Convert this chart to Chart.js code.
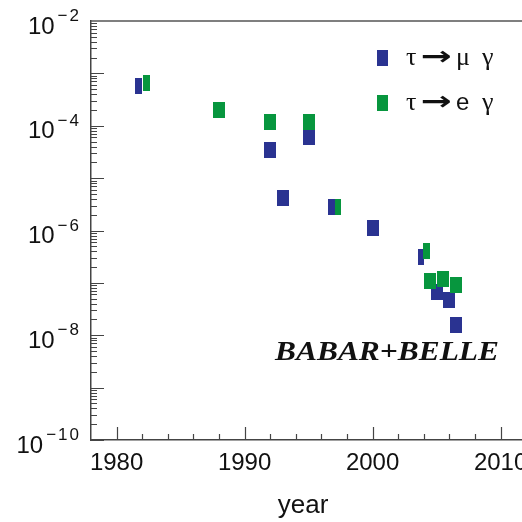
<!DOCTYPE html>
<html>
<head>
<meta charset="utf-8">
<script src="https://cdn.jsdelivr.net/npm/chart.js@4.4.0/dist/chart.umd.min.js"></script>
<style>
  html, body { margin: 0; padding: 0; background: #fff; }
  canvas { display: block; }
</style>
</head>
<body>
<canvas id="grafico" width="522" height="522"></canvas>
<script>
// limites superiores por ano
const muYears = [1981.7, 1992.0, 1993.0, 1995.0, 1996.8, 2000.0, 2003.75, 2005.0, 2006.0, 2006.5];
const muLimits = [5.7e-4, 3.4e-5, 4.2e-6, 6.2e-5, 2.8e-6, 1.1e-6, 3.1e-7, 6.6e-8, 4.8e-8, 1.6e-8];
const eYears = [1982.3, 1988.0, 1992.0, 1995.0, 1997.3, 2004.2, 2004.45, 2005.47, 2006.48];
const eLimits = [6.5e-4, 2.0e-4, 1.17e-4, 1.2e-4, 2.8e-6, 4.1e-7, 1.09e-7, 1.19e-7, 9.2e-8];

const xTickYears = [1980, 1990, 2000, 2010];
const yTickExps = [-2, -4, -6, -8, -10];
const seriesFinal = ["μ", "e"]; // τ → μ γ , τ → e γ

// larguras dos marcadores (alguns aparecem pela metade)
const muWidths = [7, 12, 12, 12, 7, 12, 6, 12, 12, 12];
const eWidths = [7, 12, 12, 12, 6, 7, 12, 12, 12];

const AZUL = "#2a3391";
const VERDE = "#07963e";

function retangulo(w, h, cor) {
  const c = document.createElement("canvas");
  c.width = w;
  c.height = h;
  const g = c.getContext("2d");
  g.fillStyle = cor;
  g.fillRect(0, 0, w, h);
  return c;
}

// texto esticado para caber numa largura
function textoLargura(ctx, txt, x, y, largura) {
  const w = ctx.measureText(txt).width;
  ctx.save();
  ctx.translate(x, y);
  ctx.scale(largura / w, 1);
  ctx.fillText(txt, 0, 0);
  ctx.restore();
}

const eixosExtras = {
  id: "eixosExtras",
  afterDraw(chart) {
    const ctx = chart.ctx;
    const x = chart.scales.x;
    const y = chart.scales.y;
    const area = chart.chartArea;
    ctx.save();

    // linha de cima
    ctx.strokeStyle = "#555";
    ctx.lineWidth = 1.5;
    ctx.beginPath();
    ctx.moveTo(area.left, area.top);
    ctx.lineTo(chart.width, area.top);
    ctx.stroke();

    // marcas do eixo y (log)
    ctx.strokeStyle = "#444";
    ctx.lineWidth = 1.2;
    ctx.beginPath();
    for (let e = -10; e < -2; e++) {
      for (let m = 1; m <= 9; m++) {
        const py = Math.round(y.getPixelForValue(m * Math.pow(10, e))) + 0.5;
        const len = m === 1 ? 13 : 6;
        ctx.moveTo(area.left, py);
        ctx.lineTo(area.left + len, py);
      }
    }
    // marcas do eixo x
    for (let yr = 1980; yr <= 2010; yr += 2) {
      const px = Math.round(x.getPixelForValue(yr)) + 0.5;
      const len = yr % 10 === 0 ? 13 : 6;
      ctx.moveTo(px, area.bottom);
      ctx.lineTo(px, area.bottom - len);
    }
    ctx.stroke();

    // rótulos do eixo y: 10^n
    ctx.fillStyle = "#111";
    ctx.textBaseline = "alphabetic";
    ctx.textAlign = "right";
    yTickExps.forEach(function (ex) {
      const ty = y.getPixelForValue(Math.pow(10, ex));
      ctx.font = '17px "Liberation Sans", Arial, sans-serif';
      ctx.letterSpacing = "2px";
      const sup = "−" + Math.abs(ex);
      const supW = ctx.measureText(sup).width;
      ctx.fillText(sup, 81, ty);
      ctx.letterSpacing = "0px";
      ctx.font = '24px "Liberation Sans", Arial, sans-serif';
      ctx.fillText("10", 81 - supW - 3, ty + 12.5);
    });

    // rótulos do eixo x
    ctx.textAlign = "center";
    ctx.font = '24px "Liberation Sans", Arial, sans-serif';
    xTickYears.forEach(function (yr) {
      ctx.fillText(String(yr), x.getPixelForValue(yr), 470);
    });

    // título do eixo x
    ctx.font = '26px "Liberation Sans", Arial, sans-serif';
    ctx.fillText("year", 303, 513);

    // legenda
    const cores = [AZUL, VERDE];
    const legY = [58, 103];
    ctx.textAlign = "left";
    ctx.textBaseline = "middle";
    seriesFinal.forEach(function (fim, i) {
      ctx.fillStyle = cores[i];
      ctx.fillRect(377, legY[i] - 8, 11, 16);
      ctx.fillStyle = "#111";
      ctx.font = '26px "Liberation Serif", "DejaVu Serif", serif';
      ctx.fillText("τ", 406, legY[i]);
      ctx.font = 'bold 26px "DejaVu Sans", sans-serif';
      textoLargura(ctx, "→", 421, legY[i], 31);
      if (fim === "e") {
        ctx.font = '24px "Liberation Sans", Arial, sans-serif';
      } else {
        ctx.font = '26px "Liberation Serif", "DejaVu Serif", serif';
      }
      ctx.fillText(fim, 456, legY[i]);
      ctx.font = '26px "Liberation Serif", "DejaVu Serif", serif';
      ctx.fillText("γ", 482, legY[i]);
    });

    // BABAR+BELLE
    ctx.font = 'italic bold 27px "Liberation Serif", "DejaVu Serif", serif';
    ctx.textBaseline = "alphabetic";
    textoLargura(ctx, "BABAR+BELLE", 275, 360, 224);

    ctx.restore();
  }
};

const ctx = document.getElementById("grafico").getContext("2d");
const grafico = new Chart(ctx, {
  type: "scatter",
  data: {
    datasets: [
      {
        label: "τ → μ γ",
        data: muYears.map((yr, i) => ({ x: yr, y: muLimits[i] })),
        pointStyle: muWidths.map((w) => retangulo(w, 16, AZUL)),
        order: 2,
      },
      {
        label: "τ → e γ",
        data: eYears.map((yr, i) => ({ x: yr, y: eLimits[i] })),
        pointStyle: eWidths.map((w) => retangulo(w, 16, VERDE)),
        order: 1,
      },
    ],
  },
  options: {
    responsive: false,
    animation: false,
    devicePixelRatio: 1,
    layout: { autoPadding: false, padding: { top: 21, left: 0, right: 0, bottom: 0 } },
    plugins: {
      legend: { display: false },
      tooltip: { enabled: false },
    },
    scales: {
      x: {
        type: "linear",
        min: 1978,
        max: 2011.67,
        grid: { display: false },
        ticks: { display: false },
        border: { display: true, color: "#444", width: 1.5 },
        afterFit: (scale) => { scale.height = 82; },
      },
      y: {
        type: "logarithmic",
        min: 1e-10,
        max: 1e-2,
        grid: { display: false },
        ticks: { display: false },
        border: { display: true, color: "#444", width: 1.5 },
        afterFit: (scale) => { scale.width = 91; },
      },
    },
  },
  plugins: [eixosExtras],
});
</script>
</body>
</html>
